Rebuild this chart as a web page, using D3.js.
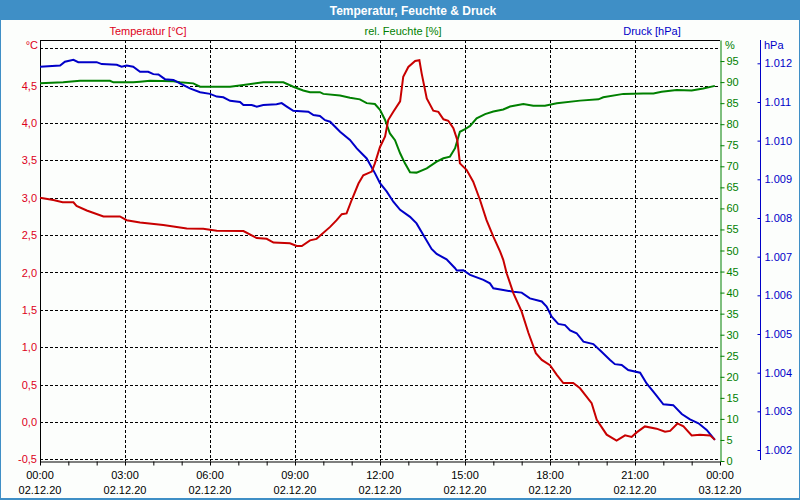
<!DOCTYPE html>
<html>
<head>
<meta charset="utf-8">
<script src="https://cdn.jsdelivr.net/npm/d3@7"></script>
<style>
  html, body { margin: 0; padding: 0; background: #ffffff; }
  svg { display: block; }
  text { font-family: "Liberation Sans", Arial, sans-serif; }
</style>
</head>
<body>
<svg id="chart" width="800" height="500"></svg>
<script>
// ---------- data (hours since 02.12.20 00:00, value) ----------
const tempData = [[0,3.00],[0.47,2.97],[0.8,2.94],[1.18,2.94],[1.29,2.89],[1.65,2.83],[2.24,2.75],[2.82,2.75],[3.06,2.70],[3.53,2.67],[4.35,2.635],[5.18,2.59],[5.76,2.585],[6.24,2.56],[7.18,2.555],[7.65,2.46],[8.0,2.45],[8.24,2.40],[8.82,2.39],[9.06,2.355],[9.24,2.355],[9.53,2.43],[9.76,2.45],[10.24,2.61],[10.47,2.70],[10.65,2.78],[10.82,2.79],[11.0,2.97],[11.24,3.19],[11.41,3.30],[11.71,3.35],[11.82,3.46],[12.0,3.68],[12.18,3.82],[12.29,4.04],[12.47,4.15],[12.71,4.29],[12.82,4.62],[13.0,4.75],[13.24,4.83],[13.39,4.84],[13.47,4.665],[13.65,4.33],[13.88,4.165],[14.06,4.15],[14.24,4.05],[14.41,4.03],[14.59,3.93],[14.73,3.77],[14.82,3.46],[15.06,3.37],[15.29,3.215],[15.53,2.97],[15.76,2.70],[16.0,2.48],[16.24,2.28],[16.35,2.17],[16.47,1.99],[16.71,1.72],[17.0,1.475],[17.24,1.19],[17.5,0.92],[17.71,0.83],[18.0,0.76],[18.24,0.63],[18.47,0.52],[18.82,0.52],[19.06,0.45],[19.47,0.25],[19.65,0.03],[20.0,-0.17],[20.35,-0.25],[20.65,-0.18],[20.88,-0.20],[21.06,-0.14],[21.35,-0.06],[21.76,-0.09],[22.06,-0.13],[22.24,-0.12],[22.5,-0.02],[22.71,-0.06],[23.0,-0.18],[23.29,-0.17],[23.65,-0.18],[23.82,-0.24]];

const humData = [[0,89.7],[0.82,89.95],[1.41,90.3],[2.47,90.3],[2.59,89.95],[3.29,89.95],[3.53,90.1],[3.88,90.3],[4.71,90.2],[4.94,89.95],[5.41,89.7],[5.65,88.9],[6.71,88.9],[7.18,89.3],[7.88,89.95],[8.59,89.95],[8.94,88.9],[9.29,88.0],[9.53,87.6],[9.88,87.6],[10.0,87.2],[10.59,86.8],[10.94,86.3],[11.29,85.9],[11.53,85.0],[11.82,84.8],[12.0,83.4],[12.18,81.0],[12.35,77.8],[12.53,76.2],[12.71,73.1],[12.88,70.7],[13.06,68.6],[13.29,68.5],[13.65,69.5],[14.0,71.1],[14.24,71.9],[14.47,72.3],[14.65,74.3],[14.82,78.2],[15.0,78.8],[15.18,79.6],[15.41,81.4],[15.71,82.4],[16.0,83.0],[16.35,83.5],[16.59,84.2],[17.06,84.8],[17.41,84.4],[17.82,84.4],[18.24,85.0],[19.06,85.6],[19.71,85.9],[19.88,86.4],[20.59,87.2],[21.29,87.3],[21.65,87.3],[21.94,87.7],[22.47,88.1],[23.0,88.0],[23.41,88.5],[23.82,89.1]];

const presData = [[0,1011.91],[0.71,1011.94],[0.88,1012.04],[1.18,1012.09],[1.35,1012.03],[2.0,1012.03],[2.18,1011.98],[2.71,1011.96],[2.88,1011.91],[3.06,1011.94],[3.29,1011.91],[3.53,1011.78],[3.82,1011.78],[4.0,1011.72],[4.18,1011.71],[4.41,1011.59],[4.71,1011.57],[4.94,1011.48],[5.29,1011.35],[5.65,1011.25],[6.0,1011.21],[6.24,1011.14],[6.47,1011.12],[6.71,1011.03],[7.06,1011.0],[7.18,1010.92],[7.47,1010.92],[7.65,1010.88],[7.88,1010.92],[8.35,1010.94],[8.53,1010.97],[8.71,1010.88],[8.94,1010.77],[9.47,1010.75],[9.65,1010.66],[9.88,1010.64],[10.06,1010.53],[10.24,1010.49],[10.59,1010.23],[10.94,1010.02],[11.18,1009.80],[11.53,1009.54],[11.82,1009.16],[12.0,1008.90],[12.24,1008.68],[12.47,1008.42],[12.71,1008.21],[13.06,1008.03],[13.29,1007.86],[13.53,1007.56],[13.82,1007.20],[14.0,1007.07],[14.35,1006.93],[14.65,1006.70],[14.71,1006.64],[14.94,1006.65],[15.18,1006.53],[15.65,1006.40],[15.88,1006.31],[16.0,1006.18],[16.35,1006.14],[16.71,1006.09],[17.0,1006.07],[17.29,1005.92],[17.71,1005.84],[17.88,1005.71],[18.06,1005.45],[18.29,1005.26],[18.53,1005.23],[18.71,1005.09],[18.94,1005.02],[19.18,1004.80],[19.53,1004.74],[19.82,1004.54],[20.12,1004.33],[20.29,1004.22],[20.53,1004.20],[20.76,1004.07],[21.18,1004.0],[21.41,1003.72],[21.71,1003.45],[22.0,1003.18],[22.35,1003.16],[22.65,1002.93],[22.94,1002.79],[23.24,1002.69],[23.53,1002.52],[23.82,1002.26]];

// ---------- tick definitions ----------
const tempGridTicks = [-0.5, 0, 0.5, 1, 1.5, 2, 2.5, 3, 3.5, 4, 4.5, 5];
const tempLabelTicks = [-0.5, 0, 0.5, 1, 1.5, 2, 2.5, 3, 3.5, 4, 4.5];
const humTicks = [0,5,10,15,20,25,30,35,40,45,50,55,60,65,70,75,80,85,90,95];
const presTicks = [1002,1003,1004,1005,1006,1007,1008,1009,1010,1011,1012];
const hourTicks = d3.range(0, 25, 1);
const timeLabels = ["00:00","03:00","06:00","09:00","12:00","15:00","18:00","21:00","00:00"];
const dateLabels = ["02.12.20","02.12.20","02.12.20","02.12.20","02.12.20","02.12.20","02.12.20","02.12.20","03.12.20"];

const titleText = "Temperatur, Feuchte & Druck";
const seriesNames = ["Temperatur [°C]", "rel. Feuchte [%]", "Druck [hPa]"];

// ---------- styles ----------
const RED = "#c80000", RED_T = "#dd0020";
const GREEN = "#008000";
const BLUE = "#0000c8";
const FRAME = "#3f8fc6";

const svg = d3.select("#chart");
const L = 40, R = 720, T = 40, B = 461;

// frame
svg.append("rect").attr("x",0).attr("y",0).attr("width",800).attr("height",500).attr("fill",FRAME);
svg.append("rect").attr("x",1).attr("y",20).attr("width",798).attr("height",478).attr("fill","#fcfefc");

svg.append("text").attr("x",413).attr("y",14.5).attr("text-anchor","middle")
  .attr("fill","#ffffff").attr("font-weight","bold").attr("font-size","12px").text(titleText);

// scales
const x = d3.scaleLinear().domain([0,24]).range([L,R]);
const yT = d3.scaleLinear().domain([-0.5,5.0]).range([459.3,48.3]);
const yH = d3.scaleLinear().domain([0,100]).range([B,T]);
const yP = d3.scaleLinear().domain([1002,1012]).range([450,63.3]);

// grid
const grid = svg.append("g").attr("stroke","#000").attr("stroke-width",1).attr("stroke-dasharray","3,2");
grid.selectAll("line.h").data(tempGridTicks).enter().append("line")
  .attr("x1",L).attr("x2",R)
  .attr("y1",d=>Math.round(yT(d))+0.5).attr("y2",d=>Math.round(yT(d))+0.5);
grid.selectAll("line.v").data(d3.range(3,24,3)).enter().append("line")
  .attr("y1",T).attr("y2",B)
  .attr("x1",d=>Math.round(x(d))+0.5).attr("x2",d=>Math.round(x(d))+0.5);

// plot frame lines
svg.append("line").attr("x1",L).attr("x2",R).attr("y1",T+0.5).attr("y2",T+0.5).attr("stroke","#000");
svg.append("line").attr("x1",L+0.5).attr("x2",L+0.5).attr("y1",T).attr("y2",B+1).attr("stroke","#000");

// left axis (temperature)
const fmtT = d => d3.format(".1f")(d).replace(".", ",").replace("−", "-");
const axL = svg.append("g").attr("transform",`translate(${L},0)`)
  .call(d3.axisLeft(yT).tickValues(tempLabelTicks).tickSize(0).tickPadding(3).tickFormat(fmtT));
axL.select(".domain").remove();
axL.selectAll("text").attr("fill",RED_T).attr("font-size","11px").attr("font-family","Liberation Sans, Arial, sans-serif");

// bottom axis
const axB = svg.append("g").attr("transform",`translate(0,${B+0.5})`)
  .call(d3.axisBottom(x).tickValues(hourTicks).tickSizeInner(4).tickSizeOuter(0).tickFormat(""));
axB.select(".domain").attr("stroke","#000");
axB.selectAll(".tick line").attr("stroke","#000");
const lbl = svg.append("g").attr("font-size","11px").attr("fill","#000").attr("text-anchor","middle");
lbl.selectAll("text.t").data(timeLabels).enter().append("text")
  .attr("x",(d,i)=>x(i*3)).attr("y",479).text(d=>d);
lbl.selectAll("text.d").data(dateLabels).enter().append("text")
  .attr("x",(d,i)=>x(i*3)).attr("y",494).text(d=>d);

// humidity axis
const axH = svg.append("g").attr("transform",`translate(${R+0.5},0)`)
  .call(d3.axisRight(yH).tickValues(humTicks).tickSizeInner(4).tickSizeOuter(0).tickPadding(2));
axH.select(".domain").attr("stroke",GREEN).attr("stroke-width",1);
axH.selectAll(".tick line").attr("stroke",GREEN);
axH.selectAll("text").attr("fill",GREEN).attr("font-size","11px").attr("font-family","Liberation Sans, Arial, sans-serif");

// pressure axis
const locale = d3.formatLocale({decimal:",", thousands:".", grouping:[3], currency:["","€"]});
const axP = svg.append("g").attr("transform",`translate(760.5,0)`)
  .call(d3.axisRight(yP).tickValues(presTicks).tickSizeInner(-3).tickSizeOuter(0).tickPadding(4).tickFormat(locale.format(",d")));
axP.select(".domain").remove();
axP.append("line").attr("x1",0).attr("x2",0).attr("y1",T).attr("y2",460).attr("stroke",BLUE);
axP.selectAll(".tick line").attr("stroke",BLUE);
axP.selectAll("text").attr("fill",BLUE).attr("font-size","11px").attr("font-family","Liberation Sans, Arial, sans-serif");

// unit labels
svg.append("text").attr("x",38).attr("y",49).attr("text-anchor","end").attr("fill",RED_T).attr("font-size","11px").text("°C");
svg.append("text").attr("x",725).attr("y",49).attr("fill",GREEN).attr("font-size","11px").text("%");
svg.append("text").attr("x",764).attr("y",49).attr("fill",BLUE).attr("font-size","11px").text("hPa");

// series labels
svg.append("text").attr("x",148).attr("y",35).attr("text-anchor","middle").attr("fill",RED_T).attr("font-size","11px").text(seriesNames[0]);
svg.append("text").attr("x",403).attr("y",35).attr("text-anchor","middle").attr("fill",GREEN).attr("font-size","11px").text(seriesNames[1]);
svg.append("text").attr("x",652).attr("y",35).attr("text-anchor","middle").attr("fill",BLUE).attr("font-size","11px").text(seriesNames[2]);

// lines
const lineFor = ys => d3.line().x(d=>x(d[0])).y(d=>ys(d[1]));
svg.append("path").datum(humData).attr("d",lineFor(yH)).attr("fill","none").attr("stroke",GREEN).attr("stroke-width",2);
svg.append("path").datum(presData).attr("d",lineFor(yP)).attr("fill","none").attr("stroke",BLUE).attr("stroke-width",2);
svg.append("path").datum(tempData).attr("d",lineFor(yT)).attr("fill","none").attr("stroke",RED).attr("stroke-width",2);
</script>
</body>
</html>
